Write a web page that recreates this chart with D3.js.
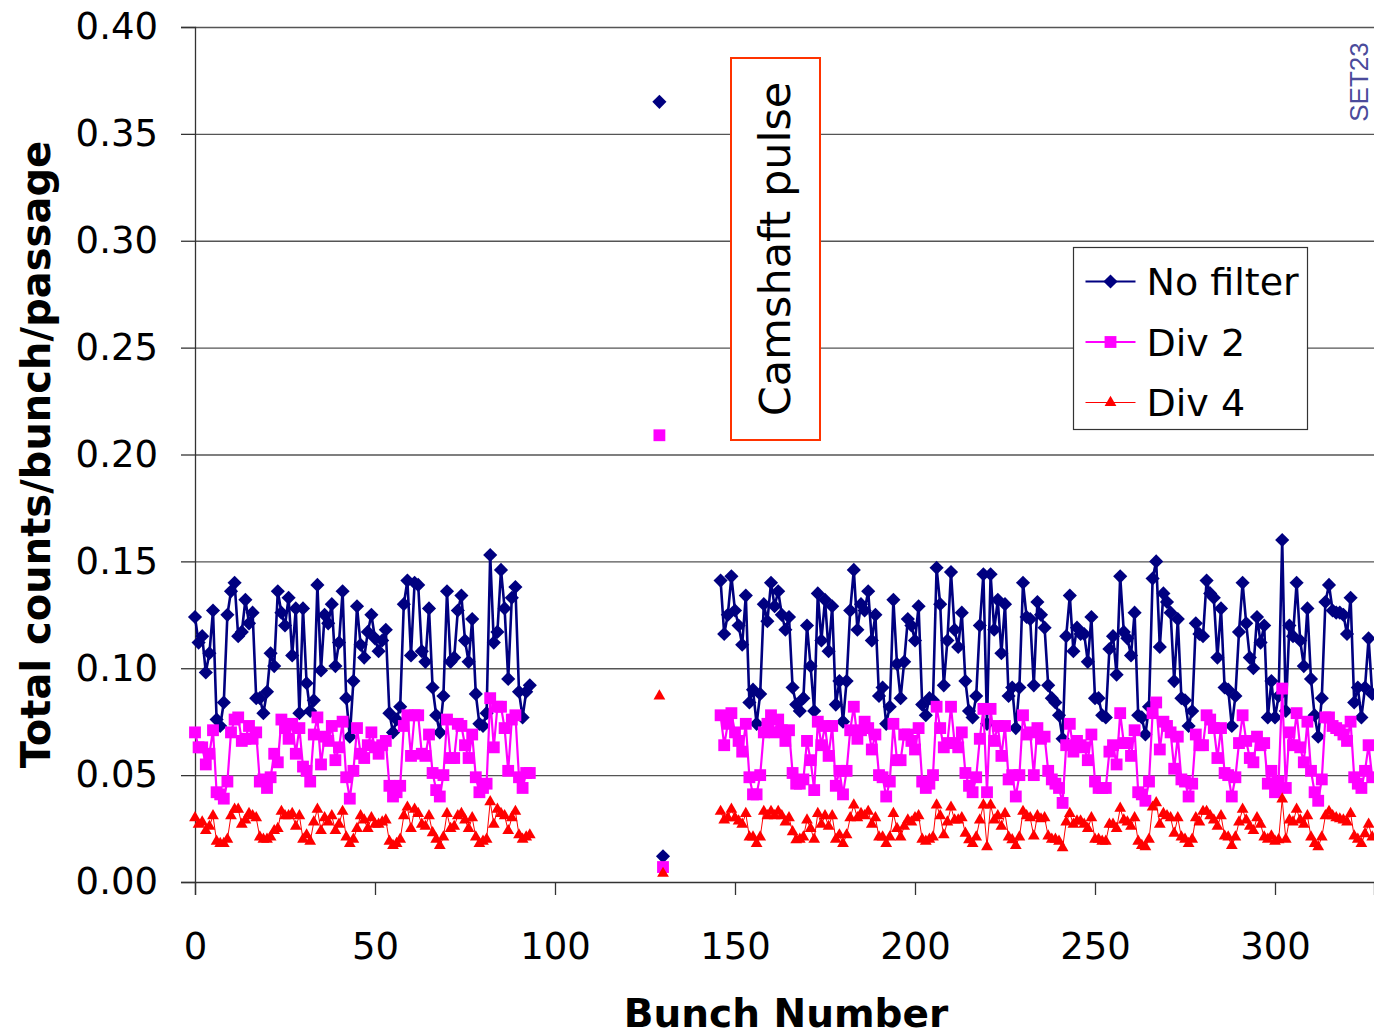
<!DOCTYPE html>
<html>
<head>
<meta charset="utf-8">
<script src="https://cdn.jsdelivr.net/npm/d3@7"></script>
<style>
  body { margin: 0; background: #fff; }
  text { font-family: "DejaVu Sans", Verdana, sans-serif; }
</style>
</head>
<body>
<div id="vis"></div>
<script>

// Data ----------------------------------------------------------------------

var seriesNames = ["No filter", "Div 2", "Div 4"];
var xTicks = [0, 50, 100, 150, 200, 250, 300];
var yTicks = [0, 0.05, 0.10, 0.15, 0.20, 0.25, 0.30, 0.35, 0.40];

// first block of bunches, starting at bunch 0
var firstStart = 0;
var noFilterA = [0.124, 0.112, 0.115, 0.098, 0.107, 0.127, 0.076, 0.073, 0.084, 0.125,
  0.136, 0.140, 0.115, 0.117, 0.132, 0.121, 0.126, 0.086, 0.086, 0.079,
  0.089, 0.107, 0.101, 0.136, 0.126, 0.120, 0.133, 0.106, 0.128, 0.079,
  0.128, 0.093, 0.080, 0.085, 0.139, 0.099, 0.125, 0.121, 0.130, 0.101,
  0.112, 0.136, 0.086, 0.068, 0.094, 0.129, 0.111, 0.105, 0.117, 0.125,
  0.114, 0.108, 0.113, 0.118, 0.079, 0.070, 0.076, 0.082, 0.130, 0.141,
  0.106, 0.140, 0.139, 0.108, 0.103, 0.128, 0.091, 0.078, 0.070, 0.087,
  0.136, 0.103, 0.105, 0.127, 0.134, 0.113, 0.103, 0.123, 0.088, 0.074,
  0.073, 0.079, 0.153, 0.112, 0.117, 0.146, 0.128, 0.095, 0.133, 0.138,
  0.089, 0.077, 0.089, 0.092];
var div2A = [0.070, 0.063, 0.063, 0.055, 0.060, 0.071, 0.042, 0.041, 0.039, 0.047,
  0.070, 0.076, 0.077, 0.066, 0.067, 0.073, 0.067, 0.070, 0.047, 0.048,
  0.044, 0.049, 0.060, 0.056, 0.076, 0.072, 0.067, 0.074, 0.060, 0.072,
  0.054, 0.052, 0.047, 0.069, 0.077, 0.055, 0.068, 0.066, 0.073, 0.057,
  0.063, 0.075, 0.049, 0.039, 0.052, 0.072, 0.060, 0.058, 0.064, 0.070,
  0.063, 0.060, 0.064, 0.066, 0.045, 0.040, 0.042, 0.045, 0.073, 0.078,
  0.059, 0.078, 0.078, 0.060, 0.059, 0.069, 0.051, 0.043, 0.040, 0.050,
  0.076, 0.058, 0.058, 0.074, 0.073, 0.064, 0.058, 0.069, 0.049, 0.042,
  0.044, 0.046, 0.086, 0.063, 0.082, 0.082, 0.072, 0.052, 0.076, 0.078,
  0.049, 0.044, 0.051, 0.051];
var div4A = [0.030, 0.027, 0.028, 0.024, 0.026, 0.031, 0.019, 0.018, 0.018, 0.020,
  0.031, 0.034, 0.034, 0.027, 0.029, 0.032, 0.031, 0.030, 0.021, 0.020,
  0.020, 0.021, 0.024, 0.025, 0.033, 0.031, 0.031, 0.032, 0.026, 0.031,
  0.020, 0.022, 0.019, 0.028, 0.034, 0.024, 0.030, 0.028, 0.031, 0.024,
  0.027, 0.033, 0.021, 0.018, 0.020, 0.025, 0.031, 0.029, 0.025, 0.030,
  0.027, 0.027, 0.028, 0.029, 0.019, 0.017, 0.018, 0.020, 0.031, 0.035,
  0.025, 0.034, 0.032, 0.027, 0.026, 0.031, 0.023, 0.020, 0.017, 0.021,
  0.032, 0.025, 0.026, 0.031, 0.032, 0.029, 0.025, 0.030, 0.021, 0.018,
  0.019, 0.020, 0.0375, 0.027, 0.034, 0.032, 0.031, 0.024, 0.030, 0.033,
  0.022, 0.020, 0.021, 0.022];

// the camshaft pulse bunches
var pulseBunch = [129, 130];
var pulseNoFilter = [0.365, 0.012];
var pulseDiv2 = [0.209, 0.007];
var pulseDiv4 = [0.087, 0.004];

// second block of bunches, starting at bunch 146
var secondStart = 146;
var noFilterB = [0.141, 0.116, 0.125, 0.143, 0.127, 0.120, 0.111, 0.134, 0.084, 0.090,
  0.074, 0.088, 0.130, 0.122, 0.140, 0.129, 0.136, 0.125, 0.118, 0.124,
  0.091, 0.083, 0.080, 0.086, 0.120, 0.101, 0.080, 0.135, 0.113,
  0.132, 0.108, 0.129, 0.083, 0.094, 0.075, 0.094, 0.127, 0.146, 0.118,
  0.130, 0.127, 0.136, 0.113, 0.125, 0.087, 0.091, 0.074, 0.082, 0.132,
  0.102, 0.086, 0.103, 0.123, 0.120, 0.113, 0.129, 0.083, 0.078, 0.086,
  0.085, 0.147, 0.130, 0.092, 0.113, 0.145, 0.118, 0.110, 0.126, 0.094,
  0.080, 0.077, 0.087, 0.120, 0.144, 0.074, 0.144, 0.118, 0.132, 0.107,
  0.130, 0.087, 0.091, 0.072, 0.091, 0.140, 0.124, 0.123, 0.092, 0.131, 0.125,
  0.119, 0.092, 0.086, 0.084, 0.078, 0.067, 0.115, 0.134, 0.108, 0.119,
  0.116, 0.116, 0.103, 0.124, 0.086, 0.086, 0.078, 0.077, 0.109, 0.115,
  0.097, 0.143, 0.117, 0.114, 0.106, 0.126, 0.078, 0.077, 0.069, 0.082,
  0.142, 0.150, 0.110, 0.135, 0.131, 0.126, 0.094, 0.123, 0.086, 0.085,
  0.073, 0.080, 0.121, 0.116, 0.115, 0.141, 0.135, 0.133, 0.105, 0.128,
  0.091, 0.090, 0.073, 0.087, 0.117, 0.140, 0.121, 0.105, 0.100, 0.124, 0.112,
  0.120, 0.077, 0.094, 0.077, 0.087, 0.160, 0.080, 0.120, 0.115, 0.140,
  0.113, 0.101, 0.128, 0.095, 0.078, 0.068, 0.086, 0.131, 0.139, 0.127,
  0.126, 0.126, 0.125, 0.116, 0.133, 0.084, 0.091, 0.077, 0.091, 0.114, 0.088];
var div2B = [0.078, 0.064, 0.074, 0.079, 0.070, 0.066, 0.061, 0.074, 0.049, 0.041,
  0.041, 0.050, 0.070, 0.074, 0.078, 0.070, 0.076, 0.071, 0.066, 0.071,
  0.051, 0.046, 0.046, 0.048, 0.066, 0.057, 0.043, 0.075, 0.064,
  0.073, 0.059, 0.073, 0.045, 0.052, 0.041, 0.052, 0.071, 0.082, 0.067,
  0.071, 0.075, 0.072, 0.062, 0.069, 0.050, 0.049, 0.040, 0.047, 0.074,
  0.057, 0.057, 0.069, 0.069, 0.066, 0.062, 0.072, 0.047, 0.044, 0.046,
  0.050, 0.082, 0.072, 0.063, 0.065, 0.082, 0.065, 0.063, 0.070, 0.051,
  0.045, 0.042, 0.049, 0.067, 0.081, 0.042, 0.081, 0.066, 0.073, 0.059,
  0.073, 0.048, 0.050, 0.040, 0.050, 0.078, 0.069, 0.070, 0.050, 0.072, 0.067,
  0.068, 0.052, 0.048, 0.046, 0.044, 0.037, 0.064, 0.074, 0.061, 0.066,
  0.064, 0.063, 0.057, 0.069, 0.047, 0.044, 0.044, 0.044, 0.061, 0.064,
  0.055, 0.079, 0.065, 0.065, 0.059, 0.071, 0.042, 0.041, 0.038, 0.047,
  0.079, 0.084, 0.062, 0.075, 0.073, 0.070, 0.053, 0.068, 0.048, 0.047,
  0.040, 0.046, 0.069, 0.064, 0.064, 0.078, 0.076, 0.072, 0.058, 0.072,
  0.051, 0.050, 0.040, 0.049, 0.065, 0.078, 0.066, 0.058, 0.056, 0.068, 0.064,
  0.065, 0.046, 0.052, 0.042, 0.047, 0.0905, 0.044, 0.070, 0.064, 0.079,
  0.063, 0.056, 0.075, 0.052, 0.042, 0.038, 0.048, 0.077, 0.077, 0.073,
  0.072, 0.071, 0.069, 0.066, 0.075, 0.049, 0.046, 0.044, 0.052, 0.064, 0.049];
var div4B = [0.033, 0.029, 0.030, 0.034, 0.030, 0.0285, 0.027, 0.032, 0.021, 0.021,
  0.018, 0.021, 0.033, 0.031, 0.033, 0.031, 0.033, 0.031, 0.028, 0.030,
  0.0235, 0.0197, 0.020, 0.021, 0.029, 0.025, 0.020, 0.032, 0.027,
  0.031, 0.026, 0.031, 0.020, 0.022, 0.018, 0.022, 0.030, 0.036, 0.030,
  0.032, 0.031, 0.033, 0.027, 0.030, 0.021, 0.021, 0.018, 0.021, 0.032,
  0.025, 0.021, 0.026, 0.029, 0.028, 0.030, 0.031, 0.020, 0.019, 0.020,
  0.021, 0.036, 0.031, 0.022, 0.028, 0.035, 0.029, 0.029, 0.030, 0.0228,
  0.0197, 0.018, 0.021, 0.029, 0.036, 0.0165, 0.036, 0.029, 0.031, 0.026,
  0.032, 0.021, 0.0197, 0.017, 0.021, 0.033, 0.031, 0.030, 0.0215, 0.031, 0.0295,
  0.030, 0.0215, 0.020, 0.020, 0.019, 0.016, 0.028, 0.032, 0.027, 0.0285,
  0.0285, 0.027, 0.025, 0.030, 0.020, 0.020, 0.019, 0.019, 0.027, 0.027,
  0.025, 0.0345, 0.029, 0.028, 0.026, 0.030, 0.019, 0.017, 0.0165, 0.020,
  0.035, 0.037, 0.027, 0.032, 0.031, 0.030, 0.0228, 0.030, 0.021, 0.020,
  0.018, 0.020, 0.030, 0.028, 0.033, 0.033, 0.031, 0.029, 0.026, 0.031,
  0.0215, 0.021, 0.017, 0.021, 0.028, 0.034, 0.029, 0.026, 0.024, 0.030, 0.027,
  0.021, 0.020, 0.0215, 0.019, 0.0197, 0.0388, 0.020, 0.029, 0.028, 0.034,
  0.029, 0.027, 0.031, 0.021, 0.018, 0.0165, 0.021, 0.031, 0.033, 0.031,
  0.030, 0.0295, 0.029, 0.028, 0.032, 0.0215, 0.020, 0.018, 0.0225, 0.027, 0.021];


// Setup ---------------------------------------------------------------------

var width = 1374,
    height = 1036;

var plotLeft = 195,
    plotRight = 1374,
    plotTop = 27,
    plotBottom = 882;

var x = d3.scaleLinear()
  .domain([0, 327.5])
  .range([plotLeft, plotRight]);

var y = d3.scaleLinear()
  .domain([0, 0.40])
  .range([plotBottom, plotTop]);

function toPoints(start, values) {
  return values.map(function(v, i) { return {bunch: start + i, value: v}; });
}

var series = [
  {name: seriesNames[0], color: "#000080", lineWidth: 2.6, symbol: "diamond",
   blocks: [toPoints(firstStart, noFilterA), toPoints(secondStart, noFilterB)],
   pulse: pulseNoFilter},
  {name: seriesNames[1], color: "#ff00ff", lineWidth: 2.2, symbol: "square",
   blocks: [toPoints(firstStart, div2A), toPoints(secondStart, div2B)],
   pulse: pulseDiv2},
  {name: seriesNames[2], color: "#ff0000", lineWidth: 1, symbol: "triangle",
   blocks: [toPoints(firstStart, div4A), toPoints(secondStart, div4B)],
   pulse: pulseDiv4}
];

var symbols = {
  diamond: d3.symbol().type(d3.symbolSquare).size(100)(),
  square: d3.symbol().type(d3.symbolSquare).size(140)(),
  triangle: d3.symbol().type(d3.symbolTriangle).size(60)()
};
var symbolRotate = {diamond: 45, square: 0, triangle: 0};

var svg = d3.select("#vis").append("svg")
  .attr("width", width)
  .attr("height", height);

svg.append("defs").append("clipPath")
    .attr("id", "plot-clip")
  .append("rect")
    .attr("x", plotLeft - 8)
    .attr("y", plotTop - 10)
    .attr("width", plotRight - plotLeft + 8)
    .attr("height", plotBottom - plotTop + 20);


// Grid and axes -------------------------------------------------------------

svg.append("g")
    .attr("class", "grid")
    .attr("transform", "translate(" + plotLeft + ",0)")
    .call(d3.axisLeft(y).tickValues(yTicks.slice(1)).tickSize(-(plotRight - plotLeft)).tickFormat(""))
    .call(function(g) { g.select(".domain").remove(); })
    .selectAll("line")
    .attr("stroke", "#555")
    .attr("stroke-width", 1.3);

var yAxis = svg.append("g")
    .attr("transform", "translate(" + plotLeft + ",0)")
    .call(d3.axisLeft(y).tickValues(yTicks).tickSize(14).tickPadding(23)
      .tickFormat(d3.format(".2f")));

var xAxis = svg.append("g")
    .attr("transform", "translate(0," + plotBottom + ")")
    .call(d3.axisBottom(x).tickValues(xTicks).tickSize(13).tickPadding(38)
      .tickFormat(d3.format("d")));

[yAxis, xAxis].forEach(function(g) {
  g.select(".domain").attr("stroke", "#333").attr("stroke-width", 1.3);
  g.selectAll(".tick line").attr("stroke", "#333").attr("stroke-width", 1.3);
  g.selectAll(".tick text")
    .attr("fill", "#000")
    .style("font-family", "'DejaVu Sans', Verdana, sans-serif")
    .style("font-size", "37px");
});

// axis titles
svg.append("text")
    .attr("transform", "translate(50," + ((plotTop + plotBottom) / 2) + ") rotate(-90)")
    .attr("text-anchor", "middle")
    .style("font-size", "40px")
    .style("font-weight", "bold")
    .text("Total counts/bunch/passage");

svg.append("text")
    .attr("x", 786)
    .attr("y", 1027)
    .attr("text-anchor", "middle")
    .style("font-size", "39px")
    .style("font-weight", "bold")
    .text("Bunch Number");


// Camshaft annotation -------------------------------------------------------

svg.append("rect")
    .attr("x", 731)
    .attr("y", 58)
    .attr("width", 89)
    .attr("height", 382)
    .attr("fill", "#fff")
    .attr("stroke", "#ff3300")
    .attr("stroke-width", 2);

svg.append("text")
    .attr("transform", "translate(790,249) rotate(-90)")
    .attr("text-anchor", "middle")
    .style("font-family", "'Comic Sans MS', 'DejaVu Sans', sans-serif")
    .style("font-size", "43px")
    .text("Camshaft pulse");

svg.append("text")
    .attr("transform", "translate(1368,82) rotate(-90)")
    .attr("text-anchor", "middle")
    .attr("fill", "#4b4b9b")
    .style("font-family", "'Liberation Sans', Arial, sans-serif")
    .style("font-size", "26px")
    .text("SET23");


// Series --------------------------------------------------------------------

var line = d3.line()
  .x(function(d) { return x(d.bunch); })
  .y(function(d) { return y(d.value); });

var plot = svg.append("g")
  .attr("clip-path", "url(#plot-clip)");

series.forEach(function(s) {

  var g = plot.append("g").attr("class", "series");

  g.selectAll("path.line")
    .data(s.blocks)
    .enter()
    .append("path")
    .attr("class", "line")
    .attr("fill", "none")
    .attr("stroke", s.color)
    .attr("stroke-width", s.lineWidth)
    .attr("stroke-linejoin", "round")
    .attr("d", line);

  var pts = s.blocks[0]
    .concat(pulseBunch.map(function(b, i) { return {bunch: b, value: s.pulse[i]}; }))
    .concat(s.blocks[1]);

  g.selectAll("path.marker")
    .data(pts)
    .enter()
    .append("path")
    .attr("class", "marker")
    .attr("d", symbols[s.symbol])
    .attr("fill", s.color)
    .attr("transform", function(d) {
      return "translate(" + x(d.bunch) + "," + y(d.value) + ") rotate(" + symbolRotate[s.symbol] + ")";
    });
});


// Legend --------------------------------------------------------------------

var legend = svg.append("g")
  .attr("transform", "translate(1073.5,247.5)");

legend.append("rect")
    .attr("width", 234)
    .attr("height", 182)
    .attr("fill", "#fff")
    .attr("stroke", "#333")
    .attr("stroke-width", 1.2);

var item = legend.selectAll("g.item")
  .data(series)
  .enter()
  .append("g")
  .attr("class", "item")
  .attr("transform", function(d, i) { return "translate(0," + (34 + i * 60.5) + ")"; });

item.append("line")
    .attr("x1", 12)
    .attr("x2", 62)
    .attr("stroke", function(d) { return d.color; })
    .attr("stroke-width", function(d) { return Math.min(d.lineWidth, 2); });

item.append("path")
    .attr("d", function(d) { return symbols[d.symbol]; })
    .attr("fill", function(d) { return d.color; })
    .attr("transform", function(d) { return "translate(37,0) rotate(" + symbolRotate[d.symbol] + ")"; });

item.append("text")
    .attr("x", 73)
    .attr("dy", "0.36em")
    .style("font-size", "38px")
    .text(function(d) { return d.name; });

</script>
</body>
</html>
